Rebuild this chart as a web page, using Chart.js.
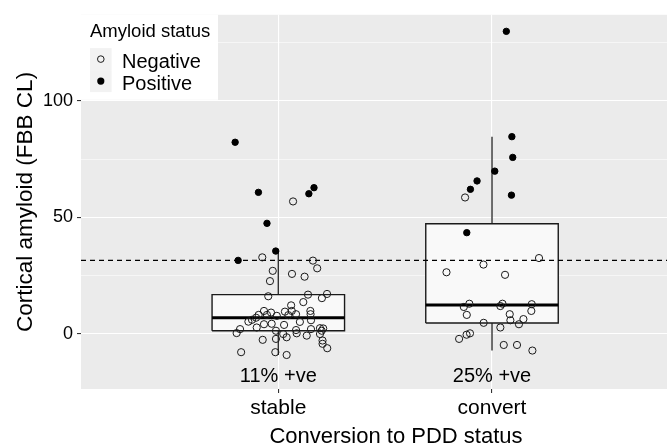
<!DOCTYPE html>
<html><head><meta charset="utf-8">
<script src="https://cdn.jsdelivr.net/npm/chart.js@4"></script>
<style>html,body{margin:0;padding:0;overflow:hidden;background:#fff}#wrap{width:718px;height:448px}</style>
</head><body><div id="wrap"><canvas id="c" width="718" height="448"></canvas></div>
<script>
// ---- data ----
const categories = ['stable', 'convert'];
const positiveLabels = ['11% +ve', '25% +ve'];
const legendTitle = 'Amyloid status';
const legendLabels = ['Negative', 'Positive'];
const yTickValues = [0, 25, 50, 75, 100, 125];
const yTickLabels = ['0', '', '50', '', '100', ''];
const threshold = 31.6;
// [lower whisker, Q1, median, Q3, upper whisker]
const stableBox = [-9.0, 1.4, 7.0, 16.9, 35.6];
const convertBox = [-7.1, 4.7, 12.4, 47.3, 84.7];
// jittered points: offset from category centre, value
const stableNegJitter = [0.069,-0.075,0.162,0.182,-0.026,0.064,0.123,-0.039,-0.047,0.139,0.228,0.204,0.117,0.060,-0.067,-0.034,0.031,0.063,0.150,0.151,-0.092,-0.053,-0.104,-0.007,0.047,0.083,-0.140,0.101,0.153,-0.123,-0.031,-0.067,0.027,-0.101,-0.179,-0.195,-0.011,0.083,0.153,0.195,0.210,0.203,0.023,0.039,0.086,0.133,0.195,-0.073,-0.011,0.207,0.207,0.229,-0.174,-0.014,0.039];
const stableNegValues = [56.9,32.9,31.5,28.2,27.1,25.8,24.6,22.7,16.2,16.9,17.2,15.4,13.7,12.3,9.9,9.2,9.6,9.9,9.9,8.5,8.2,8.2,7.0,7.8,8.1,8.5,5.3,5.2,5.9,6.1,4.4,4.2,3.9,2.8,2.1,0.4,1.4,1.7,2.1,2.5,2.4,1.4,0.0,-1.4,0.3,-0.7,0.0,-2.5,-2.1,-2.8,-4.2,-6.1,-7.8,-7.8,-9.0];
const stablePosJitter = [-0.202,-0.093,0.167,0.143,-0.053,-0.012,-0.188];
const stablePosValues = [82.3,60.8,62.8,60.2,47.5,35.6,31.6];
const convertNegJitter = [-0.126,0.220,-0.040,-0.213,0.061,-0.106,-0.132,0.049,0.039,0.186,0.184,-0.118,0.083,0.086,0.147,0.126,-0.039,0.039,-0.154,-0.119,-0.103,0.055,0.117,0.189];
const convertNegValues = [58.6,32.6,29.8,26.5,25.4,13.0,11.6,13.0,12.0,12.8,9.9,8.2,8.5,5.9,6.4,4.2,4.8,2.8,-2.1,-0.3,0.3,-4.7,-4.7,-7.1];
const convertPosJitter = [0.067,0.093,0.097,0.013,-0.070,-0.101,0.091,-0.118];
const convertPosValues = [129.9,84.7,75.8,69.9,65.7,62.1,59.6,43.5];

// ---- build ----
const X_MIN = 0.0767, X_MAX = 3.0248, HALF = 0.31;
const FONT = "'Liberation Sans', Arial, Helvetica, sans-serif";
Chart.defaults.font.family = FONT;
Chart.defaults.color = '#000';

function pts(pos, jit, vals) { return vals.map((v, i) => ({x: pos + jit[i], y: v})); }
const negPoints = pts(1, stableNegJitter, stableNegValues).concat(pts(2, convertNegJitter, convertNegValues));
const posPoints = pts(1, stablePosJitter, stablePosValues).concat(pts(2, convertPosJitter, convertPosValues));

const datasets = [];
[stableBox, convertBox].forEach((b, i) => {
  const c = i + 1;
  datasets.push({label: 'whiskerU' + c, data: [{x: c, y: b[3]}, {x: c, y: b[4]}], showLine: true, borderColor: '#333', borderWidth: 1.4, pointRadius: 0, order: 5});
  datasets.push({label: 'whiskerL' + c, data: [{x: c, y: b[1]}, {x: c, y: b[0]}], showLine: true, borderColor: '#333', borderWidth: 1.4, pointRadius: 0, order: 5});
  datasets.push({label: 'boxfill' + c, data: [{x: c - HALF, y: b[3]}, {x: c + HALF, y: b[3]}], showLine: true, borderWidth: 0, borderColor: 'rgba(0,0,0,0)', backgroundColor: '#F9F9F9', fill: {value: b[1]}, pointRadius: 0, order: 4});
  datasets.push({label: 'box' + c, data: [{x: c - HALF, y: b[1]}, {x: c + HALF, y: b[1]}, {x: c + HALF, y: b[3]}, {x: c - HALF, y: b[3]}, {x: c - HALF, y: b[1]}], showLine: true, borderColor: '#1a1a1a', borderWidth: 1.4, pointRadius: 0, fill: false, order: 3});
  datasets.push({label: 'median' + c, data: [{x: c - HALF, y: b[2]}, {x: c + HALF, y: b[2]}], showLine: true, borderColor: '#000', borderWidth: 3, pointRadius: 0, order: 2});
});
datasets.push({label: 'threshold', data: [{x: X_MIN, y: threshold}, {x: X_MAX, y: threshold}], showLine: true, borderColor: '#000', borderWidth: 1.1, borderDash: [5, 4], pointRadius: 0, order: 1});
datasets.push({label: legendLabels[0], data: negPoints, pointRadius: 3.6, pointBorderWidth: 1, pointBorderColor: '#1a1a1a', pointBackgroundColor: 'rgba(0,0,0,0)', showLine: false, order: 0});
datasets.push({label: legendLabels[1], data: posPoints, pointRadius: 3.2, pointBorderWidth: 1, pointBorderColor: '#000', pointBackgroundColor: '#000', showLine: false, order: 0});

const panelBg = {
  id: 'panelBg',
  beforeDraw(chart) {
    const {ctx, chartArea: a} = chart;
    ctx.save(); ctx.fillStyle = '#EBEBEB'; ctx.fillRect(a.left, a.top, a.right - a.left, a.bottom - a.top); ctx.restore();
  }
};
const extras = {
  id: 'extras',
  afterDatasetsDraw(chart) {
    const {ctx, chartArea: a, scales} = chart;
    ctx.save();
    // annotations
    ctx.fillStyle = '#000'; ctx.font = '20px ' + FONT; ctx.textAlign = 'center'; ctx.textBaseline = 'middle';
    positiveLabels.forEach((t, i) => ctx.fillText(t, scales.x.getPixelForValue(i + 1), scales.y.getPixelForValue(-18.4)));
    // legend
    const L = a.left, T = a.top;
    ctx.fillStyle = '#fff'; ctx.fillRect(L, T, 137, 85);
    ctx.fillStyle = '#F2F2F2'; ctx.fillRect(L + 9, T + 33.3, 21.6, 22); ctx.fillRect(L + 9, T + 55.3, 21.6, 22);
    ctx.textAlign = 'left'; ctx.textBaseline = 'alphabetic'; ctx.fillStyle = '#000';
    ctx.font = '18.5px ' + FONT; ctx.fillText(legendTitle, L + 9, T + 21.7);
    ctx.font = '20px ' + FONT;
    ctx.fillText(legendLabels[0], L + 41, T + 53.3);
    ctx.fillText(legendLabels[1], L + 41, T + 75);
    ctx.beginPath(); ctx.arc(L + 19.8, T + 44.3, 3.3, 0, Math.PI * 2); ctx.lineWidth = 1; ctx.strokeStyle = '#1a1a1a'; ctx.stroke();
    ctx.beginPath(); ctx.arc(L + 19.8, T + 66.3, 3.6, 0, Math.PI * 2); ctx.fillStyle = '#000'; ctx.fill();
    ctx.restore();
  }
};

new Chart(document.getElementById('c'), {
  type: 'scatter',
  data: {datasets},
  plugins: [panelBg, extras],
  options: {
    responsive: false, animation: false, events: [],
    layout: {padding: {top: 10, right: 7, left: 0, bottom: 0}},
    plugins: {legend: {display: false}, tooltip: {enabled: false}},
    scales: {
      x: {
        type: 'linear', min: X_MIN, max: X_MAX,
        afterBuildTicks: s => { s.ticks = categories.map((c, i) => ({value: i + 1})); },
        afterFit: s => { s.height = 59; },
        ticks: {autoSkip: false, padding: 3, color: '#000', font: {size: 21}, callback: v => categories[Math.round(v) - 1] || ''},
        grid: {color: '#fff', lineWidth: 1.1, tickLength: 4, tickColor: '#333', tickWidth: 1.1},
        border: {display: false},
        title: {display: true, text: 'Conversion to PDD status', color: '#000', font: {size: 22, lineHeight: 1}, padding: {top: 0, bottom: 0}}
      },
      y: {
        type: 'linear', min: -23.6, max: 137.0,
        afterBuildTicks: s => { s.ticks = yTickValues.map(v => ({value: v})); },
        afterFit: s => { s.width = 81; },
        ticks: {autoSkip: false, padding: 4, color: '#000', font: {size: 18}, callback: v => { const i = yTickValues.indexOf(v); return i >= 0 ? yTickLabels[i] : ''; }},
        grid: {color: '#fff', lineWidth: c => (c.tick && c.tick.value % 50 === 0) ? 1.1 : 0.55, tickLength: 4,
               tickColor: c => (c.tick && c.tick.value % 50 === 0) ? '#333' : 'rgba(0,0,0,0)', tickWidth: 1.1},
        border: {display: false},
        title: {display: true, text: 'Cortical amyloid (FBB CL)', color: '#000', font: {size: 22.5}, padding: {top: 12, bottom: 0}}
      }
    }
  }
});
</script>
</body></html>
